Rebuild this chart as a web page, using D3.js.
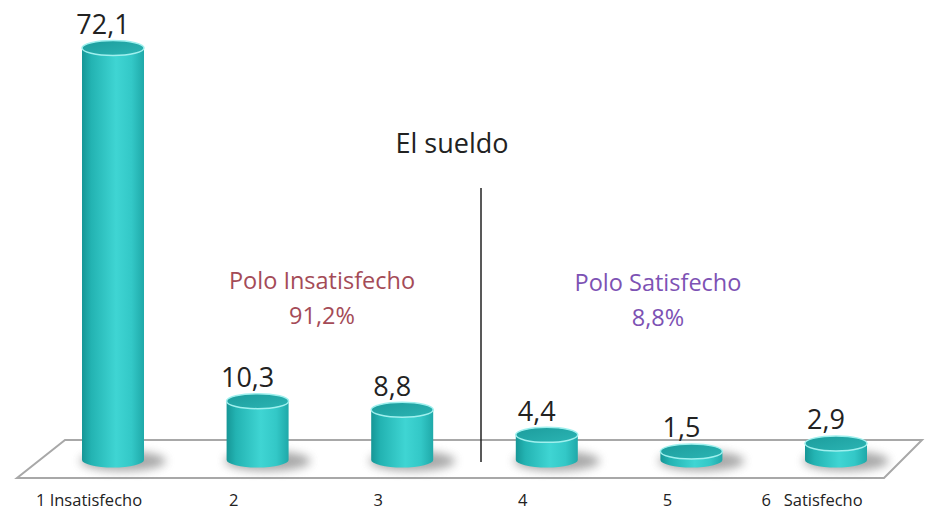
<!DOCTYPE html>
<html><head><meta charset="utf-8">
<script src="https://cdn.jsdelivr.net/npm/d3@7"></script>
<style>body{margin:0;background:#fff}svg{display:block}text{font-family:"Open Sans",Lato,sans-serif}</style>
</head><body>
<svg id="c" width="925" height="512"></svg>
<script>
const categories = ["1 Insatisfecho","2","3","4","5","6   Satisfecho"];
const values = [72.1, 10.3, 8.8, 4.4, 1.5, 2.9];
const valueLabels = ["72,1","10,3","8,8","4,4","1,5","2,9"];
const title = "El sueldo";
const poles = [
  {name:"Polo Insatisfecho", pct:"91,2%", color:"#a44b57"},
  {name:"Polo Satisfecho", pct:"8,8%", color:"#7d52b4"}
];

const W=925,H=512;
const svg=d3.select("#c");
const x=d3.scalePoint().domain(categories).range([113,836]);
const y=d3.scaleLinear().domain([0,72.1]).range([460,48]);
const bw=62, ry=7.5;

const defs=svg.append("defs");
const g=defs.append("linearGradient").attr("id","body").attr("x1","0").attr("x2","1");
[[0,"#169696"],[0.15,"#23b3b2"],[0.55,"#3fd5d3"],[0.8,"#33c8c7"],[1,"#1fa9a9"]].forEach(s=>g.append("stop").attr("offset",s[0]).attr("stop-color",s[1]));
const gt=defs.append("linearGradient").attr("id","top").attr("x1","0").attr("x2","1").attr("y1","0").attr("y2","1");
[[0,"#1c9c9c"],[1,"#2bb5b4"]].forEach(s=>gt.append("stop").attr("offset",s[0]).attr("stop-color",s[1]));
defs.append("filter").attr("id","blur").attr("x","-50%").attr("y","-100%").attr("width","200%").attr("height","300%")
  .append("feGaussianBlur").attr("stdDeviation",5);

// floor
const floorBack=440, floorFront=478;
svg.append("polygon")
  .attr("points",[[65,floorBack],[922,floorBack],[884,floorFront],[17,floorFront]].map(p=>p.join(",")).join(" "))
  .attr("fill","#fff").attr("stroke","#a8a8a8").attr("stroke-width",2);

// shadows
svg.append("g").selectAll("ellipse").data(categories).join("ellipse")
  .attr("cx",d=>x(d)+10).attr("cy",y(0)+1).attr("rx",bw/2+12).attr("ry",10)
  .attr("fill","#7a7a7a").attr("opacity",0.65).attr("filter","url(#blur)");

// divider
svg.append("line").attr("x1",481).attr("x2",481).attr("y1",188).attr("y2",462)
  .attr("stroke","#222").attr("stroke-width",1.5);

// cylinders
const bars=svg.append("g").selectAll("g").data(values).join("g");
bars.append("path").attr("fill","url(#body)")
  .attr("d",(d,i)=>{const cx=x(categories[i]),x0=cx-bw/2,x1=cx+bw/2,yt=y(d),yb=y(0);
    return `M${x0},${yt} L${x0},${yb} A${bw/2},${ry} 0 0 0 ${x1},${yb} L${x1},${yt} Z`;});
bars.append("ellipse").attr("cx",(d,i)=>x(categories[i])).attr("cy",d=>y(d))
  .attr("rx",bw/2).attr("ry",ry).attr("fill","url(#top)").attr("stroke","#9ff0ee").attr("stroke-width",1.5);

// value labels
svg.append("g").selectAll("text").data(values).join("text")
  .attr("x",(d,i)=>x(categories[i])-10).attr("y",d=>y(d)-14)
  .attr("text-anchor","middle").attr("font-size",27).attr("fill","#222")
  .text((d,i)=>valueLabels[i]);

// category labels
svg.append("g").selectAll("text").data(categories).join("text")
  .attr("x",d=>x(d)-24).attr("y",506).attr("text-anchor","middle")
  .attr("font-size",16.5).attr("fill","#222").style("white-space","pre").text(d=>d);

// title
svg.append("text").attr("x",452).attr("y",153).attr("text-anchor","middle")
  .attr("font-size",27).attr("fill","#222").text(title);

// pole annotations
const polePos=[[322,289],[658,291]];
poles.forEach((p,i)=>{
  const t=svg.append("text").attr("text-anchor","middle").attr("font-size",23.5).attr("fill",p.color);
  t.append("tspan").attr("x",polePos[i][0]).attr("y",polePos[i][1]).text(p.name);
  t.append("tspan").attr("x",polePos[i][0]).attr("y",polePos[i][1]+35).text(p.pct);
});
</script>
</body></html>
